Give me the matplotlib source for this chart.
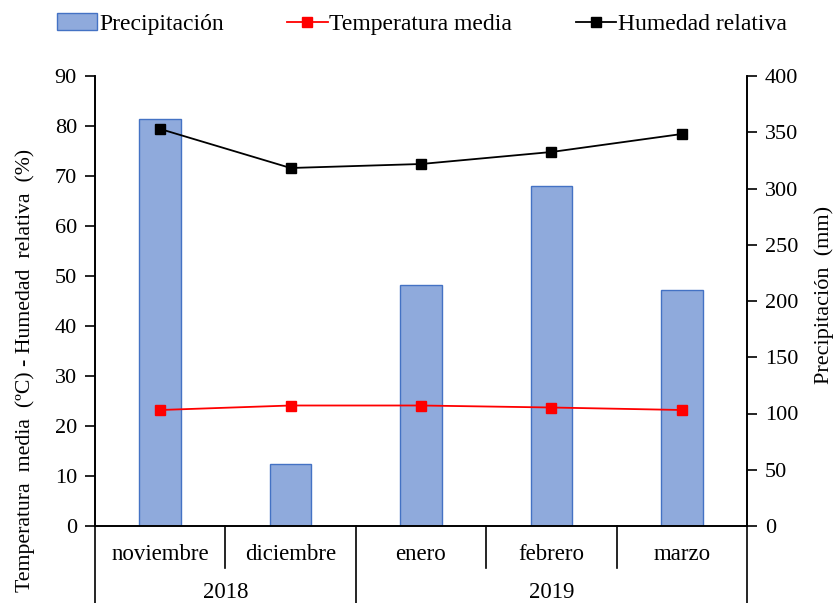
import matplotlib
matplotlib.use("Agg")
import matplotlib.pyplot as plt
from matplotlib.lines import Line2D
from matplotlib.patches import Patch
import numpy as np

months = ["noviembre", "diciembre", "enero", "febrero", "marzo"]
years = ["2018", "2019"]
year_spans = [(0, 1), (2, 4)]
precip = [362, 55, 214, 302, 210]
temp = [23.2, 24.1, 24.1, 23.7, 23.2]
hum = [79.4, 71.6, 72.4, 74.8, 78.4]
left_ticks = list(range(0, 91, 10))
right_ticks = list(range(0, 401, 50))

plt.rcParams['font.family'] = ['Liberation Serif', 'DejaVu Serif']
FS = 16

fig = plt.figure(figsize=(8.37, 6.03), dpi=100)
W, H = 837, 603
ax = fig.add_axes([95 / W, 77 / H, (747 - 95) / W, (526 - 76) / H])
ax2 = ax.twinx()
x = np.arange(len(months))

ax2.bar(x, precip, width=0.32, color="#8FAADC", edgecolor="#4472C4", linewidth=1.0, zorder=1)
ax2.set_ylim(0, 400)
ax2.set_yticks(right_ticks)

ax.plot(x, temp, color="#FF0000", marker="s", markersize=7, linewidth=1.3, zorder=3)
ax.plot(x, hum, color="#000000", marker="s", markersize=7, linewidth=1.3, zorder=3)
ax.set_ylim(0, 90)
ax.set_yticks(left_ticks)
ax.set_xlim(-0.5, len(months) - 0.5)
ax.set_zorder(ax2.get_zorder() + 1)
ax.patch.set_visible(False)

for a in (ax, ax2):
    a.spines['top'].set_visible(False)
    for s in a.spines.values():
        s.set_linewidth(1.2)
    a.tick_params(axis='y', direction='out', length=7, width=1.2, labelsize=FS, pad=6)
    a.tick_params(axis='x', length=0, labelbottom=False)

# category axis
trans = ax.get_xaxis_transform()
month_bottom = (526 - 568) / 450
year_bottom = (526 - 603) / 450
for i, m in enumerate(months):
    ax.text(i, (526 - 555) / 450, m, transform=trans, ha='center', va='center', fontsize=16.5)
for i in range(len(months) + 1):
    xb = i - 0.5
    is_year = xb in (-0.5, len(months) - 0.5) or any(abs(xb - (s - 0.5)) < 1e-9 for s, e in year_spans)
    yb = year_bottom if is_year else month_bottom
    ax.add_line(Line2D([xb, xb], [0, yb], transform=trans, color='black', linewidth=1.2, clip_on=False))
for yname, (s, e) in zip(years, year_spans):
    ax.text((s + e) / 2, (526 - 593) / 450, yname, transform=trans, ha='center', va='center', fontsize=16.5)

fig.text(25 / W, 1 - 370 / H, "Temperatura  media  (ºC) - Humedad  relativa  (%)",
         rotation=90, ha='center', va='center', fontsize=15.7)
fig.text(824 / W, 1 - 295 / H, "Precipitación  (mm)", rotation=90, ha='center', va='center', fontsize=FS)

handles = [
    Patch(facecolor="#8FAADC", edgecolor="#4472C4"),
    Line2D([], [], color="#FF0000", marker="s", markersize=7, linewidth=1.3),
    Line2D([], [], color="#000000", marker="s", markersize=7, linewidth=1.3),
]
fig.legend(handles, ["Precipitación", "Temperatura media", "Humedad relativa"],
           loc='center', bbox_to_anchor=(422 / W, 1 - 24 / H), ncol=3, frameon=False,
           fontsize=17, handlelength=1.7, handletextpad=0.08, columnspacing=2.7)

fig.savefig("out.png", dpi=100)
